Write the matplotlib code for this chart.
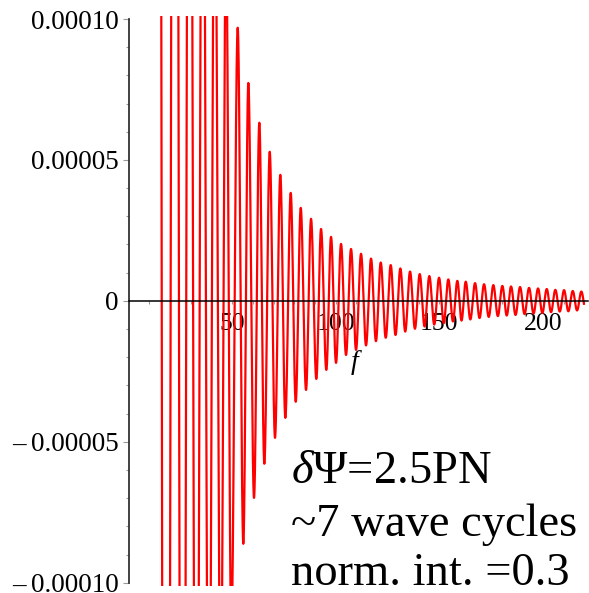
import numpy as np
import matplotlib.pyplot as plt
from matplotlib.ticker import MultipleLocator

plt.rcParams["font.family"] = "Liberation Serif"
plt.rcParams["mathtext.fontset"] = "custom"
plt.rcParams["mathtext.rm"] = "Liberation Serif"
plt.rcParams["mathtext.it"] = "Liberation Serif:italic"

# turning points of the residual: frequency f and value (units of 1e-5)
turn_f = [14.2, 17.95, 22.39, 26.06, 29.44, 32.72, 35.81, 38.76, 41.60, 44.50,
          47.06, 49.61, 52.70, 55.41, 57.82, 60.57, 63.13, 65.54, 68.15, 70.70,
          73.26, 75.68, 78.28, 80.69, 83.11, 85.67, 88.08, 90.64, 92.91, 95.46,
          97.73, 100.14, 102.56, 104.97, 107.38, 109.80, 112.21, 114.62, 117.04, 119.40,
          121.72, 124.13, 126.54, 128.86, 131.18, 133.54, 135.86, 138.22, 140.54, 142.86,
          145.17, 147.54, 149.86, 152.12, 154.34, 156.56, 158.69, 160.71, 162.74, 164.96,
          167.23, 169.40, 171.57, 173.84, 176.06, 178.23, 180.41, 182.53, 184.60, 186.78,
          188.95, 191.12, 193.29, 195.46, 197.64, 199.71, 201.83, 203.91, 205.98, 208.11,
          210.18, 212.26, 214.38, 216.46, 218.53, 220.61]
turn_val = [56.8, -60.3, 47.9, -39.0, 31.9, -26.6, 23.1, -19.5, 17.0, -14.9,
            12.8, -11.7, 9.69, -8.62, 7.73, -6.99, 6.32, -5.78, 5.29, -4.86,
            4.47, -4.15, 3.83, -3.58, 3.30, -3.16, 2.91, -2.77, 2.55, -2.45,
            2.27, -2.20, 2.02, -1.92, 1.84, -1.74, 1.67, -1.58, 1.50, -1.43,
            1.36, -1.31, 1.27, -1.21, 1.15, -1.09, 1.04, -0.99, 0.95, -0.91,
            0.88, -0.84, 0.82, -0.79, 0.76, -0.73, 0.71, -0.70, 0.68, -0.66,
            0.63, -0.61, 0.59, -0.57, 0.56, -0.54, 0.53, -0.52, 0.51, -0.50,
            0.49, -0.47, 0.46, -0.45, 0.44, -0.43, 0.42, -0.40, 0.39, -0.38,
            0.38, -0.37, 0.35, -0.34, 0.33, -0.33]
f_end = 219.8

y_ticks = [1e-4, 5e-5, 0, -5e-5, -1e-4]
y_tick_labels = ["0.00010", "0.00005", "0", "\u2013\u20090.00005", "\u2013\u20090.00010"]
x_ticks = [50, 100, 150, 200]
notes = ["$\\delta$\u03a8=2.5PN", "~7 wave cycles", "norm. int. =0.3"]

# join neighbouring turning points with half-cosine arcs
f_parts, y_parts = [], []
for i in range(len(turn_f) - 1):
    f0, f1 = turn_f[i], turn_f[i + 1]
    y0, y1 = turn_val[i], turn_val[i + 1]
    t = np.linspace(0, 1, 60, endpoint=False)
    f_parts.append(f0 + (f1 - f0) * t)
    y_parts.append((y0 + y1) / 2 + (y0 - y1) / 2 * np.cos(np.pi * t))
f = np.concatenate(f_parts)
y = np.concatenate(y_parts) * 1e-5
keep = f <= f_end
f, y = f[keep], y[keep]

W, H = 589, 593
fig = plt.figure(figsize=(W / 100, H / 100), dpi=100)
ax = fig.add_axes([128.5 / W, 0.01261, 459 / W, 0.9601])

ax.plot(f, y, color="red", lw=1.6, zorder=2)

ax.set_xlim(0, 221.5)
ax.set_ylim(-1.01e-4, 1.01e-4)

ax.spines["top"].set_visible(False)
ax.spines["right"].set_visible(False)
ax.spines["left"].set_bounds(-1e-4, 1e-4)
ax.spines["left"].set_color("#333333")
ax.spines["left"].set_linewidth(1.3)
ax.spines["bottom"].set_position(("data", 0))
ax.spines["bottom"].set_color("black")
ax.spines["bottom"].set_linewidth(1.1)
ax.spines["bottom"].set_zorder(3)

ax.set_yticks(y_ticks, y_tick_labels)
ax.yaxis.set_minor_locator(MultipleLocator(1e-5))
ax.set_xticks(x_ticks)
ax.xaxis.set_minor_locator(MultipleLocator(10))

ax.tick_params(axis="y", which="major", direction="out", length=4.5, width=0.8,
               color="#999999", pad=2.5, labelsize=19.5)
ax.tick_params(axis="y", which="minor", direction="out", length=2.2, width=0.8,
               color="#999999")
ax.tick_params(axis="x", which="major", direction="out", length=2.5, width=0.8,
               color="#999999", pad=6, labelsize=18.5)
ax.tick_params(axis="x", which="minor", direction="out", length=2.2, width=0.8,
               color="#999999")

ax.text(109, -2.17e-5, "f", fontstyle="italic", fontsize=20,
        ha="center", va="center")

for text, base in zip(notes, [483, 536, 585]):
    fig.text(291 / W, 1 - base / H, text, fontsize=33.5, ha="left", va="baseline")

fig.savefig("out.png", dpi=100)
